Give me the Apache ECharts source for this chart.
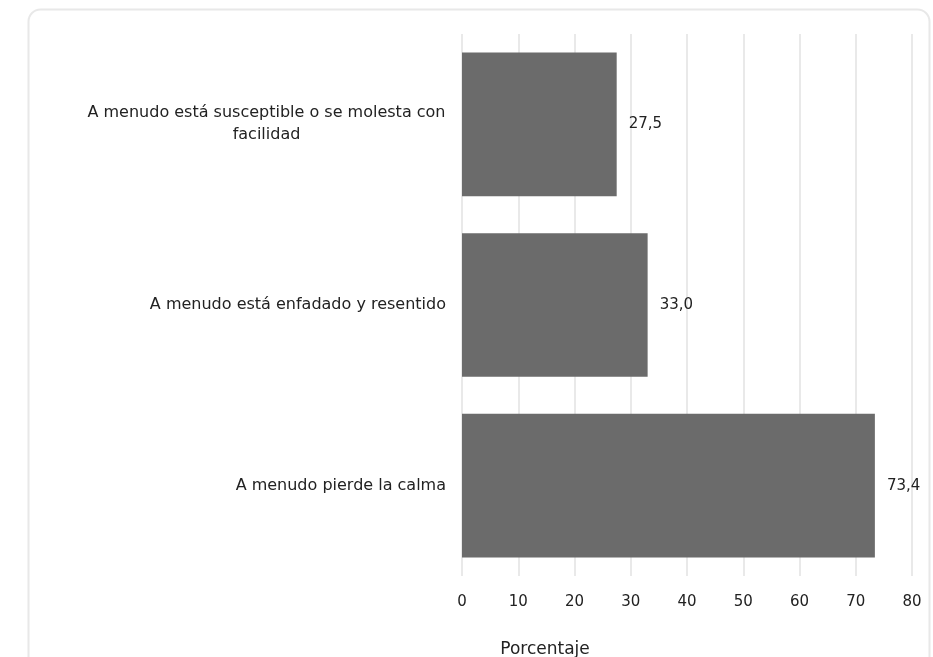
<!DOCTYPE html>
<html>
<head>
<meta charset="utf-8">
<script src="https://cdn.jsdelivr.net/npm/echarts@6/dist/echarts.min.js"></script>
<style>html,body{margin:0;padding:0;background:#fff;}#c{width:933px;height:657px;}</style>
</head>
<body>
<div id="c"></div>
<script>
const categories = ['A menudo pierde la calma', 'A menudo está enfadado y resentido', 'A menudo está susceptible o se molesta con\nfacilidad'];
const values = [73.4, 33.0, 27.5];
const xTicks = [0, 10, 20, 30, 40, 50, 60, 70, 80];
const axisTitle = 'Porcentaje';

const FONT = '"DejaVu Sans", sans-serif';
const LABEL_SIZE = 16;
const ctx = document.createElement('canvas').getContext('2d');
ctx.font = LABEL_SIZE + 'px "DejaVu Sans"';

const chart = echarts.init(document.getElementById('c'));
const wrapped = categories.filter(c => c.indexOf('\n') >= 0);
let maxW = 0;
wrapped.forEach(c => c.split('\n').forEach(l => { maxW = Math.max(maxW, ctx.measureText(l).width); }));
maxW = Math.ceil(maxW);

chart.setOption({
  backgroundColor: '#fff',
  animation: false,
  graphic: [{
    type: 'rect', left: 26, top: 7, silent: true,
    shape: { width: 901, height: 720, r: 12 },
    style: { fill: 'none', stroke: '#e8e8e8', lineWidth: 2 }
  }],
  title: {
    text: axisTitle, left: 540, top: 636, textAlign: 'center',
    textStyle: { fontFamily: FONT, fontSize: 17, fontWeight: 'normal', color: '#222' }
  },
  grid: { left: 462, right: 21, top: 34, bottom: 81, containLabel: false },
  xAxis: {
    type: 'value', min: xTicks[0], max: xTicks[xTicks.length - 1], interval: 10,
    axisLine: { show: false }, axisTick: { show: false },
    splitLine: { show: true, lineStyle: { color: '#e2e2e2', width: 1.5 } },
    axisLabel: { fontFamily: FONT, fontSize: 15, color: '#222', margin: 19 }
  },
  yAxis: {
    type: 'category', data: categories,
    axisLine: { show: false }, axisTick: { show: false },
    axisLabel: {
      fontFamily: FONT, fontSize: LABEL_SIZE, color: '#222', margin: 16, lineHeight: 22,
      formatter: function (v) {
        const lines = v.split('\n');
        if (lines.length === 1) return v;
        return lines.map(l => '{c|' + l + '}').join('\n');
      },
      rich: { c: { fontFamily: FONT, fontSize: LABEL_SIZE, color: '#222', align: 'center', width: maxW, lineHeight: 22 } }
    }
  },
  series: [{
    type: 'bar', data: values, barCategoryGap: '20.5%',
    itemStyle: { color: '#6b6b6b' },
    label: {
      show: true, position: 'right', distance: 12,
      fontFamily: FONT, fontSize: 15, color: '#222',
      formatter: p => p.value.toFixed(1).replace('.', ',')
    }
  }]
});
</script>
</body>
</html>
